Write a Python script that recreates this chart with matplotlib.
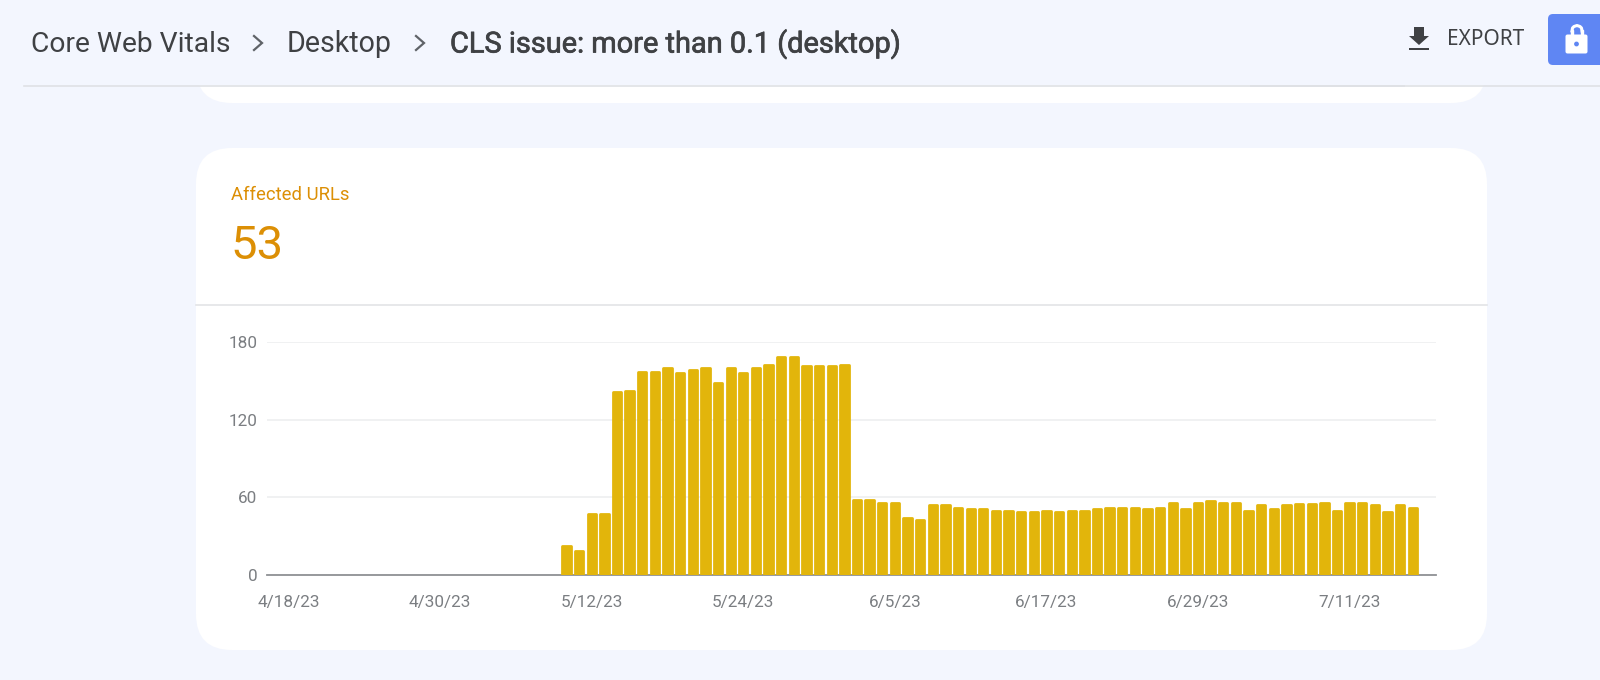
import matplotlib

matplotlib.use("Agg")

import matplotlib.dates as mdates
import matplotlib.patheffects as pe
import matplotlib.pyplot as plt
import pandas as pd
from matplotlib.patches import Circle, FancyBboxPatch, Polygon, Rectangle

# -------------------------------------------------
# data

first_day = "2023-05-10"

affected_urls = [
    24, 20, 48, 48, 142, 143, 158, 158, 161, 157, 159, 161,
    149, 161, 157, 161, 163, 169, 169, 162, 162, 162, 163, 59,
    59, 57, 57, 45, 44, 55, 55, 53, 52, 52, 51, 51,
    50, 50, 51, 50, 51, 51, 52, 53, 53, 53, 52, 53,
    57, 52, 57, 58, 57, 57, 51, 55, 52, 55, 56, 56,
    57, 51, 57, 57, 55, 50, 55, 53,
]

tick_dates = ["2023-04-18", "2023-04-30", "2023-05-12", "2023-05-24",
              "2023-06-05", "2023-06-17", "2023-06-29", "2023-07-11"]
tick_labels = ["4/18/23", "4/30/23", "5/12/23", "5/24/23",
               "6/5/23", "6/17/23", "6/29/23", "7/11/23"]
y_ticks = [0, 60, 120, 180]

breadcrumbs = ["Core Web Vitals", "Desktop", "CLS issue: more than 0.1 (desktop)"]

# -------------------------------------------------

W, H = 1600, 680
BG = "#f3f6fe"
BAR = "#e2b50b"
ORANGE = "#dc8f05"
DARK = "#3f4144"
GREY = "#7b7e82"

plt.rcParams["font.family"] = ["Roboto", "DejaVu Sans"]

fig = plt.figure(figsize=(W / 100, H / 100), dpi=100, facecolor=BG)

# page furniture, in pixel coordinates
page = fig.add_axes([0, 0, 1, 1])
page.set_xlim(0, W)
page.set_ylim(H, 0)
page.axis("off")


def card(x0, y0, x1, y1, r):
    page.add_patch(FancyBboxPatch(
        (x0 + r, y0 + r), x1 - x0 - 2 * r, y1 - y0 - 2 * r,
        boxstyle=f"round,pad={r},rounding_size={r}",
        fc="white", ec="none",
    ))


card(196, 10, 1487, 103, 36)
card(196, 148, 1487, 650, 36)

# header strip over the top card
page.add_patch(Rectangle((0, 0), W, 85, fc=BG, ec="none"))
page.add_patch(Rectangle((1250, 85), 155, 2, fc="#e4e5e8", ec="none"))
page.plot([24, W], [85.5, 85.5], color="#dfe1e5", lw=1.2)

page.text(31, 44, breadcrumbs[0], fontsize=20.3, color=DARK, va="center")
page.text(287, 44, breadcrumbs[1], fontsize=20.6, color=DARK, va="center")
page.text(450, 44, breadcrumbs[2], fontsize=20.85, color=DARK, va="center",
          path_effects=[pe.withStroke(linewidth=0.5, foreground=DARK)])

for cx in (258, 420):
    page.plot([cx - 4, cx + 4, cx - 4], [36, 43, 50], color="#5f6368",
              lw=1.6, solid_joinstyle="miter")

# export icon and label
page.add_patch(Polygon(
    [(1414, 27), (1414, 36), (1409, 36), (1419, 45), (1429, 36), (1424, 36), (1424, 27)],
    fc=DARK, ec="none",
))
page.add_patch(Rectangle((1409, 48), 20, 2, fc=DARK, ec="none"))
page.text(1447, 39.5, "EXPORT", fontsize=15, color=DARK, va="center",
          family=["Noto Sans", "DejaVu Sans"])

# lock button
page.add_patch(FancyBboxPatch(
    (1553, 19), 60, 41, boxstyle="round,pad=5,rounding_size=5",
    fc="#5f86f3", ec="none",
))
page.add_patch(FancyBboxPatch(
    (1567, 36), 19, 16, boxstyle="round,pad=1.5,rounding_size=2",
    fc="white", ec="none",
))
page.add_patch(Rectangle((1571, 30), 2, 8, fc="white", ec="white"))
page.add_patch(Rectangle((1581, 30), 2, 8, fc="white", ec="white"))
page.plot([1572, 1572.5, 1574, 1577, 1580, 1581.5, 1582], [31, 28, 26.5, 25.5, 26.5, 28, 31],
          color="white", lw=2.2)
page.add_patch(Circle((1576.5, 44), 2.4, fc="#5f86f3", ec="none"))

# card heading
page.text(231, 195, "Affected URLs", fontsize=13.3, color=ORANGE, va="center")
page.text(230, 246, "53", fontsize=34, color=ORANGE, va="center")
page.plot([196, 1487], [304.5, 304.5], color="#e3e4e6", lw=1.2)

# -------------------------------------------------
# bar chart

left, right, top, bottom = 267, 1436, 341.7, 575.3

ax = fig.add_axes([left / W, 1 - bottom / H, (right - left) / W, (bottom - top) / H])
ax.patch.set_alpha(0)

days = pd.date_range(first_day, periods=len(affected_urls), freq="D")
day_numbers = mdates.date2num(days)

# the thick round outline gives the soft corners, so take its half width off the height
outline_units = 1.07
heights = [v - outline_units for v in affected_urls]

ax.bar(day_numbers, heights, width=0.66, color=BAR, edgecolor=BAR,
       linewidth=2.0, joinstyle="round", zorder=3)

ax.set_xlim(mdates.date2num(pd.Timestamp("2023-04-18")) - 1.71,
            mdates.date2num(pd.Timestamp("2023-04-18")) + 90.84)
ax.set_ylim(0, 180)

ax.set_yticks(y_ticks)
ax.set_xticks(mdates.date2num(pd.to_datetime(tick_dates)))
ax.set_xticklabels(tick_labels)
ax.tick_params(axis="both", length=0, labelsize=12.3, labelcolor=GREY)
ax.tick_params(axis="x", pad=14)
ax.tick_params(axis="y", pad=7)

ax.grid(axis="y", color="#eeeff0", lw=1.2, zorder=0)
ax.set_axisbelow(True)

for name in ("top", "left", "right"):
    ax.spines[name].set_visible(False)
ax.spines["bottom"].set_color("#8f9194")
ax.spines["bottom"].set_linewidth(1.3)

fig.savefig("out.png", dpi=100, facecolor=BG)
